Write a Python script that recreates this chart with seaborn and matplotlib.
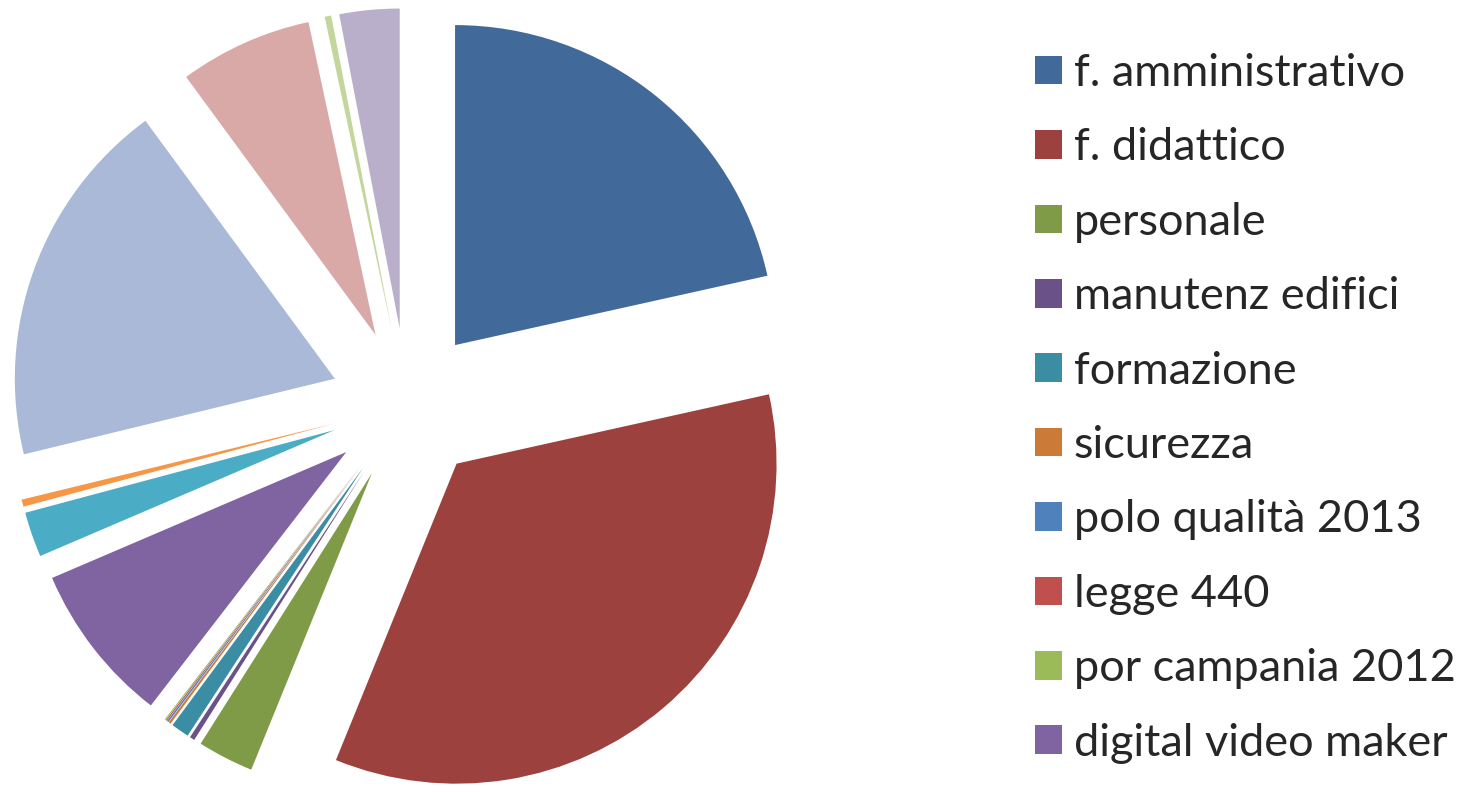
import matplotlib
matplotlib.use("Agg")
import matplotlib.pyplot as plt
import seaborn as sns

sns.set_theme(style="white")
plt.rcParams['font.family'] = ['Lato', 'DejaVu Sans']

# Legend-visible categories (the legend in the reference shows only the first ten)
categories = ["f. amministrativo", "f. didattico", "personale", "manutenz edifici",
              "formazione", "sicurezza", "polo qualità 2013", "legge 440",
              "por campania 2012", "digital video maker",
              "voce 11", "voce 12", "voce 13", "voce 14", "voce 15", "voce 16"]
# Slice sizes (in degrees of the circle)
values = [77.5, 124.7, 10.2, 0.9, 3.3, 0.4, 0.3, 0.2, 0.2, 29.2,
          8.2, 1.3, 67.4, 24.2, 1.2, 10.9]
colors = ["#416A9B", "#9C413E", "#7F9B48", "#6A5187", "#3B8DA4", "#CC7A38",
          "#4F81BD", "#C0504D", "#9BBB59", "#8064A2",
          "#4BACC6", "#F79646", "#A9B9D7", "#D9A9A8", "#C3D69B", "#B9AFCB"]
n_legend = 10

W, H = 1465, 786
fig = plt.figure(figsize=(W / 100, H / 100), dpi=100)
R = 320.0
cx, cy = 407.0, 405.0
ax_w = 2 * cx
ax = fig.add_axes([0, 0, ax_w / W, 1])
wedges, _ = ax.pie(values, colors=colors, startangle=90, counterclock=False,
                   explode=[0.24] * len(values), radius=1.0,
                   wedgeprops=dict(linewidth=0))
ax.set_xlim(-cx / R, cx / R)
ax.set_ylim(-(H - cy) / R, cy / R)
ax.set_aspect('auto')
ax.axis('off')

leg = fig.legend(wedges[:n_legend], categories[:n_legend],
                 loc='upper left', bbox_to_anchor=(1035 / W, 1 - 53 / H),
                 frameon=False, fontsize=32.5, handlelength=0.6, handleheight=0.6,
                 handletextpad=0.26, labelspacing=0.74, borderaxespad=0,
                 borderpad=0)

fig.savefig("out.png", dpi=100, facecolor="white")
